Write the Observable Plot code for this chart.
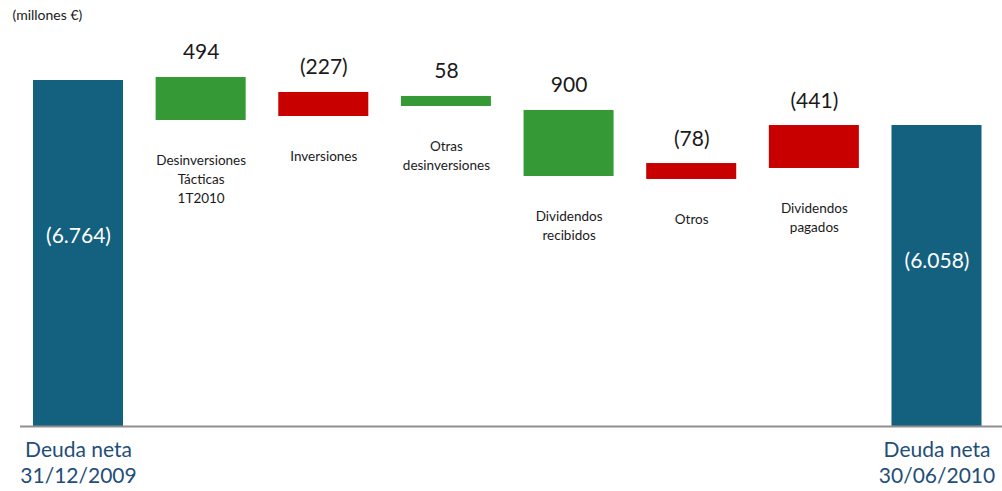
<!DOCTYPE html>
<html>
<head>
<meta charset="utf-8">
<script src="https://cdn.jsdelivr.net/npm/d3@7"></script>
<script src="https://cdn.jsdelivr.net/npm/@observablehq/plot@0.6"></script>
<style>
  html, body { margin: 0; padding: 0; background: #fff; }
  #chart svg { display: block; }
</style>
</head>
<body>
<div id="chart"></div>
<script>
// Categories (waterfall steps)
const categories = ["Deuda neta 31/12/2009", "Desinversiones Tácticas 1T2010", "Inversiones", "Otras desinversiones", "Dividendos recibidos", "Otros", "Dividendos pagados", "Deuda neta 30/06/2010"];
const categoryLabels = ["Deuda neta\n31/12/2009", "Desinversiones\nTácticas\n1T2010", "Inversiones", "Otras\ndesinversiones", "Dividendos\nrecibidos", "Otros", "Dividendos\npagados", "Deuda neta\n30/06/2010"];
// Values in millones €
const values = [-6764, 494, -227, 58, 900, -78, -441, -6058];
const valueLabels = ["(6.764)", "494", "(227)", "58", "900", "(78)", "(441)", "(6.058)"];
const kinds = ["total", "pos", "neg", "pos", "pos", "neg", "neg", "total"];
// Bar extents as drawn in the (schematic) reference, millones €
const barHigh = [6764, 6823, 6530, 6452, 6178, 5141, 5884, 5884];
const barLow  = [0, 5982, 6060, 6256, 4887, 4829, 5044, 0];

const data = categories.map((c, i) => ({
  i, cat: c, label: categoryLabels[i], vlabel: valueLabels[i], value: values[i],
  kind: kinds[i], high: barHigh[i], low: barLow[i]
}));
const totals = data.filter(d => d.kind === "total");
const steps = data.filter(d => d.kind !== "total");
const half = 0.367;
const font = "Lato, 'Open Sans', sans-serif";

const chart = Plot.plot({
  width: 1002,
  height: 491,
  marginLeft: 20,
  marginRight: 0,
  marginTop: 0,
  marginBottom: 0,
  style: {fontFamily: font, background: "#fff"},
  x: {domain: [0, 7], range: [78, 936.5], axis: null},
  y: {domain: [0, 6764], range: [426, 80], axis: null},
  color: {domain: ["total", "pos", "neg"], range: ["#13607f", "#359a35", "#c80000"]},
  marks: [
    Plot.rect(data, {x1: d => d.i - half, x2: d => d.i + half, y1: "low", y2: "high", fill: "kind"}),
    Plot.ruleY([0], {stroke: "#8f8f8f", strokeWidth: 2}),
    Plot.text(steps, {x: "i", y: "high", text: "vlabel", dy: -18, lineAnchor: "bottom", fontSize: 21, fill: "#1a1a1a"}),
    Plot.text(steps, {x: "i", y: "low", text: "label", dy: 31, lineAnchor: "top", lineHeight: 1.4, fontSize: 13.5, fill: "#1a1a1a"}),
    Plot.text(totals, {x: "i", y: d => d.high * 0.55, text: "vlabel", lineAnchor: "middle", fontSize: 21, fill: "#ffffff"}),
    Plot.text(totals, {x: "i", y: 0, text: "label", dy: 12, lineAnchor: "top", lineHeight: 1.25, fontSize: 21, fill: "#1f4e79"}),
    Plot.text(["(millones €)"], {frameAnchor: "top-left", dx: -8, dy: 10, fontSize: 14, fill: "#1a1a1a"})
  ]
});
document.getElementById("chart").appendChild(chart);
</script>
</body>
</html>
